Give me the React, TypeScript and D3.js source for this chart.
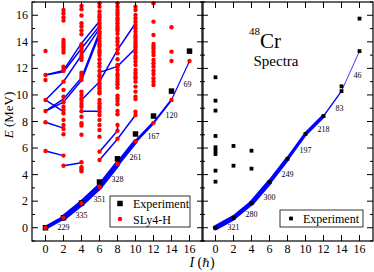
import React from "react";
import * as d3 from "d3";

const W = 374;
const H = 272;

// spins of the yrast band
const spins = [0, 2, 4, 6, 8, 10, 12, 14, 16];
// experimental yrast energies (MeV)
const expYrast = [0, 0.75, 1.86, 3.44, 5.19, 7.06, 8.41, 10.29, 13.3];
// SLy4-H yrast energies (MeV)
const thYrast = [0, 0.75, 1.84, 3.09, 4.8, 6.5, 7.9, 9.62, 12.56];
// B(E2) labels along the bands
const thBE2 = [229, 335, 351, 328, 261, 167, 120, 69];
const expBE2 = [321, 280, 300, 249, 197, 218, 83, 46];

// other SLy4-H levels, per spin
const thLevels: [number, number[]][] = [
  [0, [5.78, 7.94, 8.79, 9.62, 11.13, 11.5, 13.31]],
  [2, [4.67, 5.43, 7.04, 7.44, 7.74, 8.12, 8.62, 8.87, 9.12, 9.45, 9.87, 10.38, 11.0, 11.81, 11.96, 12.13, 13.19, 13.39, 13.57, 13.77, 13.94, 14.14, 15.6, 15.86, 16.15, 16.4]],
  [4, [4.25, 4.4, 4.55, 4.93, 7.0, 7.69, 7.87, 8.36, 8.77, 9.12, 9.32, 9.55, 9.75, 10.0, 10.25, 11.13, 11.33, 11.51, 11.68, 12.64, 12.84, 13.01, 13.26, 13.47, 13.64, 13.82, 14.57, 14.85, 15.15, 15.4, 15.98, 16.46, 16.7]],
  [6, [5.1, 5.73, 6.86, 7.36, 7.74, 8.12, 8.49, 8.74, 9.0, 9.17, 9.37, 9.62, 10.13, 10.3, 10.5, 10.7, 10.88, 11.13, 11.38, 11.51, 11.81, 12.13, 12.39, 12.69, 13.01, 13.22, 13.39, 13.64, 13.82, 14.02, 14.27, 14.45, 14.65, 14.77, 15.03, 15.2, 15.4, 15.65, 15.86, 16.03, 16.28, 16.65, 16.9]],
  [8, [6.7, 7.3, 7.74, 8.55, 8.8, 9.3, 9.55, 9.75, 9.95, 10.55, 10.8, 11.0, 11.2, 11.43, 11.58, 11.88, 12.13, 12.26, 12.69, 13.14, 13.44, 13.77, 14.02, 14.27, 14.6, 14.85, 15.03, 15.2, 15.4, 15.6, 15.78, 16.03, 16.2, 16.4, 16.65, 16.9]],
  [10, [8.49, 8.74, 9.7, 9.87, 10.25, 10.63, 11.0, 11.26, 11.38, 11.63, 11.88, 12.26, 12.51, 12.76, 12.94, 13.19, 13.39, 13.59, 13.77, 13.94, 14.14, 14.35, 14.52, 14.77, 15.03, 15.27, 15.52, 15.78, 16.03, 16.4, 16.65]],
  [12, [10.75, 11.0, 11.26, 11.58, 11.83, 12.13, 12.39, 12.64, 13.01, 13.26, 13.47, 13.64, 13.84, 14.52, 15.52, 16.9]],
  [14, [12.56, 13.26, 15.1]],
];

// SLy4-H side bands (spin, energy)
const thBands: [number, number][][] = [
  [[0, 11.5], [2, 11.85], [4, 13.9], [6, 15.55]],
  [[0, 11.5], [2, 11.75], [4, 13.5], [6, 15.2]],
  [[0, 9.62], [2, 11.0], [4, 13.0], [6, 15.0]],
  [[0, 8.79], [2, 9.7], [4, 11.3], [6, 14.75]],
  [[0, 8.79], [2, 9.45], [4, 11.1], [6, 14.55]],
  [[0, 9.62], [2, 8.75]],
  [[0, 7.94], [2, 7.5]],
  [[4, 9.62], [6, 11.0], [8, 13.4], [10, 15.4]],
  [[6, 11.7], [8, 12.15], [10, 13.5]],
  [[4, 9.62], [4, 8.77], [6, 8.77]],
  [[0, 5.78], [2, 5.43]],
  [[2, 4.67], [4, 4.9]],
  [[6, 5.73], [8, 7.3], [8, 7.74]],
  [[6, 5.1], [8, 6.68], [10, 8.49]],
];

// other experimental levels, per spin
const expExtra: [number, number[]][] = [
  [0, [3.47, 4.3, 5.55, 5.8, 6.06, 6.91, 8.82, 9.57, 11.33]],
  [2, [4.67, 6.16]],
  [4, [4.45, 5.8]],
  [14, [10.65]],
  [16, [15.75]],
];

const xTicks = [0, 2, 4, 6, 8, 10, 12, 14, 16];
const yTicks = [0, 2, 4, 6, 8, 10, 12, 14, 16];

const serif = "'Liberation Serif', 'Times New Roman', serif";
const blue = "#0000ff";
const red = "#ff0000";

const y = d3.scaleLinear().domain([-1, 17]).range([241, 2]);
const xL = d3.scaleLinear().domain([-1.5, 17.5]).range([32, 203]);
const xR = d3.scaleLinear().domain([-1.5, 17.5]).range([202, 373]);

function Frame({ x, labels }: { x: d3.ScaleLinear<number, number>; labels: boolean }) {
  const [x0, x1] = x.range();
  const [y0, y1] = y.range();
  const minorY = d3.range(-1, 18, 1).filter((v) => v % 2 !== 0);
  return (
    <g>
      <rect x={x0} y={y1} width={x1 - x0} height={y0 - y1} fill="none" stroke="#000" strokeWidth={1.2} />
      {xTicks.map((t) => (
        <g key={"x" + t}>
          <line x1={x(t)} x2={x(t)} y1={y0} y2={y0 - 6} stroke="#000" />
          <line x1={x(t)} x2={x(t)} y1={y1} y2={y1 + 6} stroke="#000" />
          <text x={x(t)} y={253} textAnchor="middle" fontSize={12} fontFamily={serif}>{t}</text>
        </g>
      ))}
      {yTicks.map((t) => (
        <g key={"y" + t}>
          <line x1={x0} x2={x0 + 6} y1={y(t)} y2={y(t)} stroke="#000" />
          <line x1={x1} x2={x1 - 6} y1={y(t)} y2={y(t)} stroke="#000" />
          {labels && (
            <text x={x0 - 4} y={y(t) + 4} textAnchor="end" fontSize={12} fontFamily={serif}>{t}</text>
          )}
        </g>
      ))}
      {minorY.map((t) => (
        <g key={"m" + t}>
          <line x1={x0} x2={x0 + 3} y1={y(t)} y2={y(t)} stroke="#000" />
          <line x1={x1} x2={x1 - 3} y1={y(t)} y2={y(t)} stroke="#000" />
        </g>
      ))}
    </g>
  );
}

function Yrast({ x, energies, be2 }: { x: d3.ScaleLinear<number, number>; energies: number[]; be2: number[] }) {
  return (
    <g>
      {be2.map((b, i) => (
        <line
          key={i}
          x1={x(spins[i])}
          y1={y(energies[i])}
          x2={x(spins[i + 1])}
          y2={y(energies[i + 1])}
          stroke={blue}
          strokeWidth={b / 60}
          strokeLinecap="round"
        />
      ))}
    </g>
  );
}

function BE2Labels({ x, energies, be2 }: { x: d3.ScaleLinear<number, number>; energies: number[]; be2: number[] }) {
  return (
    <g>
      {be2.map((b, i) => {
        const mx = x((spins[i] + spins[i + 1]) / 2);
        const my = y((energies[i] + energies[i + 1]) / 2);
        return (
          <text key={i} x={mx + 3} y={my + 7} fontSize={8} fontFamily={serif}>{b}</text>
        );
      })}
    </g>
  );
}

export default function App() {
  const line = d3
    .line<[number, number]>()
    .x((d) => xL(d[0]))
    .y((d) => y(d[1]));
  const sqL = 5.5;
  const sqR = 3.8;
  return (
    <svg width={W} height={H} style={{ position: "absolute", left: 0, top: 0, background: "#fff" }}>
      {/* left panel */}
      {thBands.map((b, i) => (
        <path key={i} d={line(b) || ""} fill="none" stroke={blue} strokeWidth={1.5} />
      ))}
      <Yrast x={xL} energies={thYrast} be2={thBE2} />
      {spins.map((s, i) => (
        <rect key={"e" + i} x={xL(s) - sqL / 2} y={y(expYrast[i]) - sqL / 2} width={sqL} height={sqL} fill="#000" />
      ))}
      {thLevels.map(([s, es]) =>
        es.map((e, j) => <circle key={s + "-" + j} cx={xL(s)} cy={y(e)} r={2.2} fill={red} />)
      )}
      {spins.map((s, i) => (
        <circle key={"t" + i} cx={xL(s)} cy={y(thYrast[i])} r={2.2} fill={red} />
      ))}
      <BE2Labels x={xL} energies={thYrast} be2={thBE2} />
      <Frame x={xL} labels={true} />
      <g>
        <rect x={110} y={196} width={80} height={31} fill="#fff" stroke="#000" strokeWidth={0.8} />
        <rect x={120 - sqL / 2} y={203.5 - sqL / 2} width={sqL} height={sqL} fill="#000" />
        <text x={133} y={207.5} fontSize={12} fontFamily={serif}>Experiment</text>
        <circle cx={120} cy={219} r={2.2} fill={red} />
        <text x={133} y={223.5} fontSize={12} fontFamily={serif}>SLy4-H</text>
      </g>

      {/* right panel */}
      <Yrast x={xR} energies={expYrast} be2={expBE2} />
      {spins.map((s, i) => (
        <rect key={"r" + i} x={xR(s) - sqR / 2} y={y(expYrast[i]) - sqR / 2} width={sqR} height={sqR} fill="#000" />
      ))}
      {expExtra.map(([s, es]) =>
        es.map((e, j) => (
          <rect key={"x" + s + "-" + j} x={xR(s) - sqR / 2} y={y(e) - sqR / 2} width={sqR} height={sqR} fill="#000" />
        ))
      )}
      <BE2Labels x={xR} energies={expYrast} be2={expBE2} />
      <Frame x={xR} labels={false} />
      <g>
        <rect x={280} y={210} width={83} height={17} fill="#fff" stroke="#000" strokeWidth={0.8} />
        <rect x={291 - sqR / 2} y={218.5 - sqR / 2} width={sqR} height={sqR} fill="#000" />
        <text x={303} y={223} fontSize={12} fontFamily={serif}>Experiment</text>
      </g>
      <text x={249} y={48} fontFamily={serif}>
        <tspan fontSize={11} dy={-13}>48</tspan>
        <tspan fontSize={21} dy={13}>Cr</tspan>
      </text>
      <text x={276} y={66} textAnchor="middle" fontSize={15} fontFamily={serif}>Spectra</text>

      {/* axis titles */}
      <text transform="translate(13,115) rotate(-90)" textAnchor="middle" fontSize={13} fontFamily={serif}>
        <tspan fontStyle="italic">E</tspan> (MeV)
      </text>
      <text x={202} y={267} textAnchor="middle" fontSize={14} fontFamily={serif}>
        <tspan fontStyle="italic">I</tspan> (<tspan fontStyle="italic" fontFamily="'DejaVu Serif', serif" fontSize={12}>ℏ</tspan>)
      </text>
    </svg>
  );
}
